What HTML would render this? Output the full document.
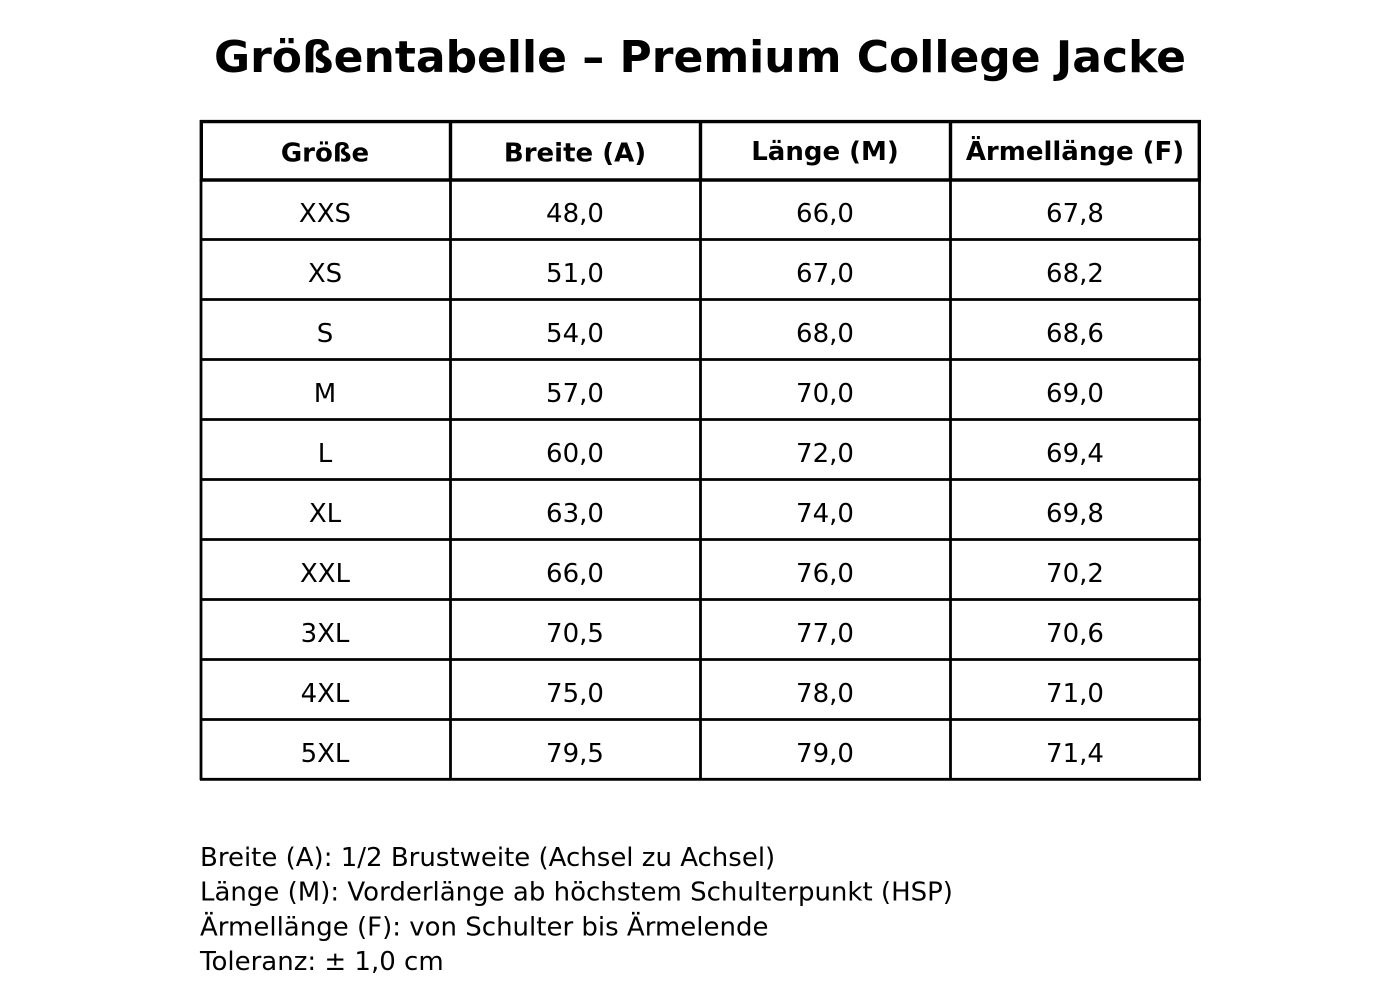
<!DOCTYPE html>
<html>
<head>
<meta charset="utf-8">
<style>
  html, body { margin:0; padding:0; background:#fff; }
  svg { display:block; }
  text { font-family: "DejaVu Sans", "Liberation Sans", sans-serif; fill:#000; }
</style>
</head>
<body>
<svg width="1400" height="1000" viewBox="0 0 1400 1000" xmlns="http://www.w3.org/2000/svg">
  <rect width="1400" height="1000" fill="#fff"/>
  <text x="700" y="72" text-anchor="middle" font-size="44" font-weight="bold">Größentabelle – Premium College Jacke</text>

  <!-- data grid lines -->
  <g stroke="#000" stroke-width="2.8" fill="none">
    <line x1="201" y1="180" x2="201" y2="780"/>
    <line x1="450.5" y1="180" x2="450.5" y2="780"/>
    <line x1="700.5" y1="180" x2="700.5" y2="780"/>
    <line x1="950.5" y1="180" x2="950.5" y2="780"/>
    <line x1="1199.5" y1="180" x2="1199.5" y2="780"/>
    <line x1="200" y1="239.5" x2="1201" y2="239.5"/>
    <line x1="200" y1="299.5" x2="1201" y2="299.5"/>
    <line x1="200" y1="359.5" x2="1201" y2="359.5"/>
    <line x1="200" y1="419.5" x2="1201" y2="419.5"/>
    <line x1="200" y1="479.5" x2="1201" y2="479.5"/>
    <line x1="200" y1="539.5" x2="1201" y2="539.5"/>
    <line x1="200" y1="599.5" x2="1201" y2="599.5"/>
    <line x1="200" y1="659.5" x2="1201" y2="659.5"/>
    <line x1="200" y1="719.5" x2="1201" y2="719.5"/>
    <line x1="200" y1="779.3" x2="1201" y2="779.3"/>
  </g>
  <!-- header grid lines -->
  <g stroke="#000" stroke-width="3.4" fill="none">
    <line x1="200" y1="121.6" x2="1201" y2="121.6"/>
    <line x1="200" y1="180" x2="1201" y2="180"/>
    <line x1="201.3" y1="120" x2="201.3" y2="181"/>
    <line x1="450.5" y1="120" x2="450.5" y2="181"/>
    <line x1="700.5" y1="120" x2="700.5" y2="181"/>
    <line x1="950.5" y1="120" x2="950.5" y2="181"/>
    <line x1="1199.3" y1="120" x2="1199.3" y2="181"/>
  </g>

  <g font-size="26" font-weight="bold" text-anchor="middle">
    <text x="325" y="161.5">Größe</text>
    <text x="575" y="161.5">Breite (A)</text>
    <text x="825" y="159.8">Länge (M)</text>
    <text x="1075" y="159.8">Ärmellänge (F)</text>
  </g>

  <g font-size="26" text-anchor="middle">
    <text x="325" y="222">XXS</text><text x="575" y="222">48,0</text><text x="825" y="222">66,0</text><text x="1075" y="222">67,8</text>
    <text x="325" y="282">XS</text><text x="575" y="282">51,0</text><text x="825" y="282">67,0</text><text x="1075" y="282">68,2</text>
    <text x="325" y="342">S</text><text x="575" y="342">54,0</text><text x="825" y="342">68,0</text><text x="1075" y="342">68,6</text>
    <text x="325" y="402">M</text><text x="575" y="402">57,0</text><text x="825" y="402">70,0</text><text x="1075" y="402">69,0</text>
    <text x="325" y="462">L</text><text x="575" y="462">60,0</text><text x="825" y="462">72,0</text><text x="1075" y="462">69,4</text>
    <text x="325" y="522">XL</text><text x="575" y="522">63,0</text><text x="825" y="522">74,0</text><text x="1075" y="522">69,8</text>
    <text x="325" y="582">XXL</text><text x="575" y="582">66,0</text><text x="825" y="582">76,0</text><text x="1075" y="582">70,2</text>
    <text x="325" y="642">3XL</text><text x="575" y="642">70,5</text><text x="825" y="642">77,0</text><text x="1075" y="642">70,6</text>
    <text x="325" y="702">4XL</text><text x="575" y="702">75,0</text><text x="825" y="702">78,0</text><text x="1075" y="702">71,0</text>
    <text x="325" y="762">5XL</text><text x="575" y="762">79,5</text><text x="825" y="762">79,0</text><text x="1075" y="762">71,4</text>
  </g>

  <g font-size="26">
    <text x="200" y="866">Breite (A): 1/2 Brustweite (Achsel zu Achsel)</text>
    <text x="200" y="900.7">Länge (M): Vorderlänge ab höchstem Schulterpunkt (HSP)</text>
    <text x="200" y="935.4">Ärmellänge (F): von Schulter bis Ärmelende</text>
    <text x="200" y="970">Toleranz: ± 1,0 cm</text>
  </g>
</svg>
</body>
</html>
